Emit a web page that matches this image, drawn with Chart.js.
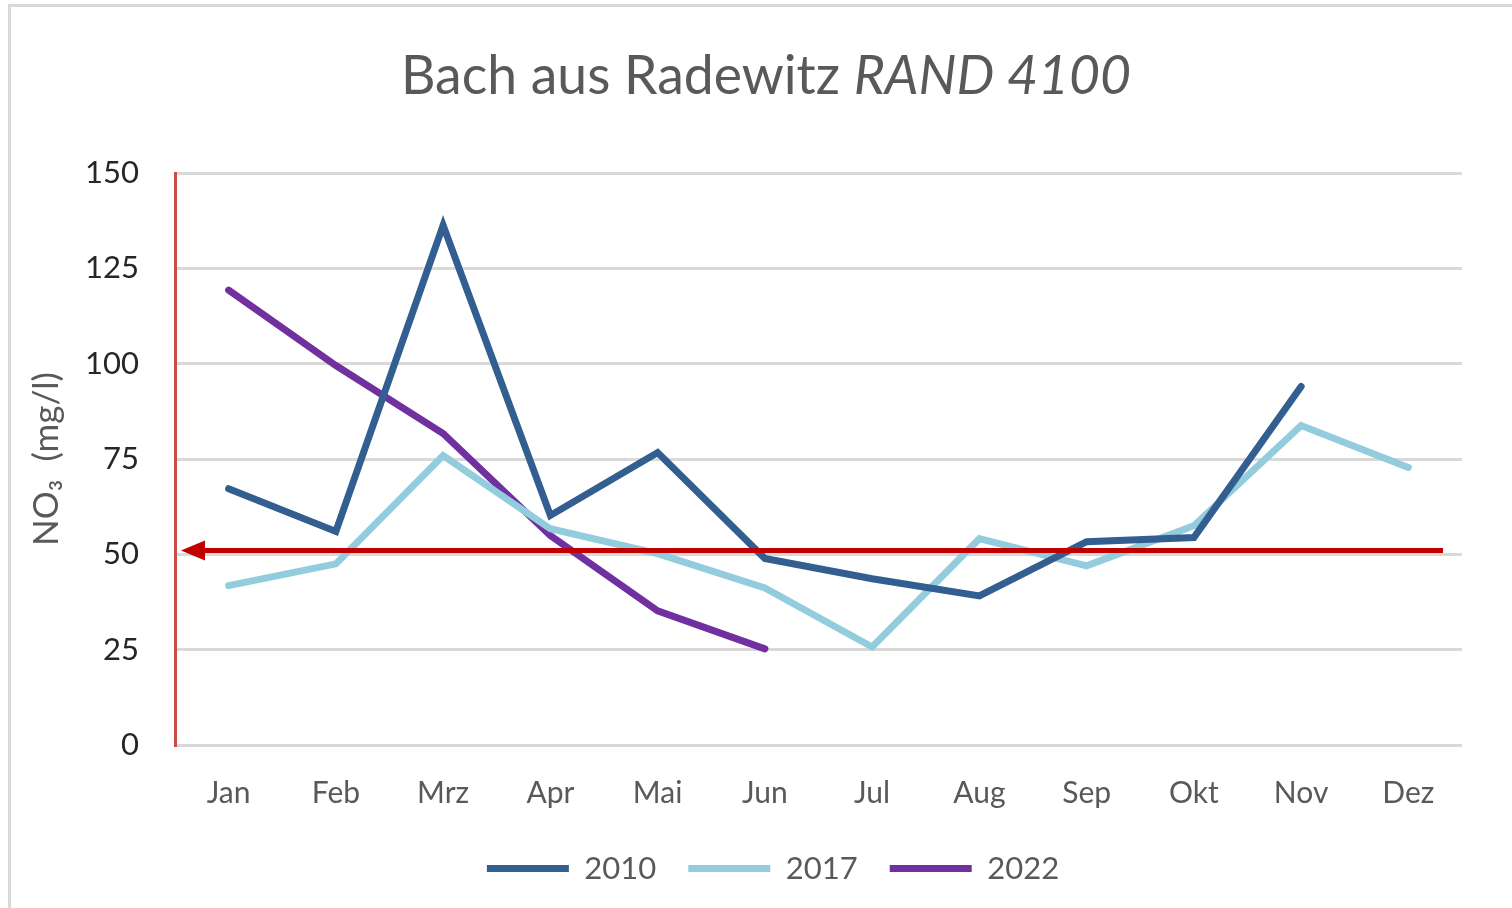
<!DOCTYPE html>
<html>
<head>
<meta charset="utf-8">
<title>Bach aus Radewitz RAND 4100</title>
<script src="https://cdn.jsdelivr.net/npm/chart.js@4"></script>
<style>
  body { margin: 0; background: #fff; overflow: hidden; font-family: Lato, "Noto Sans", sans-serif; }
  #frame { position: absolute; left: 8px; top: 4px; width: 1520px; height: 920px;
           border-left: 3px solid #d9d9d9; border-top: 3px solid #d9d9d9; }
  #wrap { position: absolute; left: 0; top: 0; width: 1512px; height: 908px; }
  h1 { position: absolute; left: 0; width: 1532px; top: 41px; margin: 0; text-align: center;
       font-weight: normal; font-size: 53.5px; color: #595959; }
</style>
</head>
<body>
<div id="frame"></div>
<div id="wrap"><canvas id="no3Chart"></canvas></div>
<h1>Bach aus Radewitz <i>RAND 4100</i></h1>
<script>
// monthly NO3 readings, mg/l
const months = ['Jan', 'Feb', 'Mrz', 'Apr', 'Mai', 'Jun', 'Jul', 'Aug', 'Sep', 'Okt', 'Nov', 'Dez'];
const values2010 = [67.2, 56, 136.3, 60.2, 76.7, 48.9, 43.6, 39.1, 53.3, 54.4, 94, null];
const values2017 = [41.8, 47.5, 75.9, 56.7, 50.2, 41.2, 25.7, 54.1, 47, 57.5, 83.8, 72.8];
const values2022 = [119.3, 99.5, 81.7, 54.9, 35.2, 25.2, null, null, null, null, null, null];
const yTicks = [0, 25, 50, 75, 100, 125, 150];
const limitValue = 51;

// red limit line with arrow head on the left
const limitLine = {
    id: 'limitLine',
    afterDatasetsDraw(chart) {
        const { ctx, chartArea, scales } = chart;
        const y = scales.y.getPixelForValue(limitValue);
        const tip = chartArea.left + 6;
        ctx.save();
        ctx.strokeStyle = '#c00000';
        ctx.fillStyle = '#c00000';
        ctx.lineWidth = 5;
        ctx.beginPath();
        ctx.moveTo(tip + 20, y);
        ctx.lineTo(chartArea.right - 19, y);
        ctx.stroke();
        ctx.beginPath();
        ctx.moveTo(tip, y);
        ctx.lineTo(tip + 24, y - 10);
        ctx.lineTo(tip + 24, y + 10);
        ctx.closePath();
        ctx.fill();
        ctx.restore();
    }
};

// nudge the legend a bit to the right, like the original
const legendShift = {
    id: 'legendShift',
    afterLayout(chart) {
        chart.legend.left += 32;
        chart.legend.right += 32;
    }
};

function series(label, data, color) {
    return {
        label: label,
        data: data,
        borderColor: color,
        backgroundColor: color,
        borderWidth: 7,
        borderCapStyle: 'round',
        borderJoinStyle: 'miter',
        pointRadius: 0,
        tension: 0,
        spanGaps: false
    };
}

new Chart(document.getElementById('no3Chart'), {
    type: 'line',
    data: {
        labels: months,
        datasets: [
            series('2010', values2010, '#335e90'),
            series('2017', values2017, '#93cddd'),
            series('2022', values2022, '#7030a0')
        ]
    },
    options: {
        responsive: true,
        maintainAspectRatio: false,
        animation: false,
        layout: { padding: { left: 20, right: 50, top: 173, bottom: 14 } },
        plugins: {
            legend: {
                position: 'bottom',
                labels: {
                    font: { family: 'Lato', size: 31 },
                    color: '#595959',
                    boxWidth: 82,
                    boxHeight: 7,
                    padding: 32,
                    generateLabels(chart) {
                        return Chart.defaults.plugins.legend.labels.generateLabels(chart).map(item => {
                            item.lineWidth = 0;
                            item.fillStyle = item.strokeStyle;
                            return item;
                        });
                    }
                }
            },
            tooltip: { enabled: false }
        },
        scales: {
            x: {
                offset: true,
                grid: { display: false, drawTicks: false },
                border: { display: false },
                ticks: { font: { family: 'Lato', size: 30 }, color: '#595959', padding: 30, maxRotation: 0 },
                afterFit(scale) { scale.height = 76; }
            },
            y: {
                min: 0,
                max: 150,
                afterBuildTicks(scale) { scale.ticks = yTicks.map(v => ({ value: v })); },
                grid: { color: '#d9d9d9', lineWidth: 3, drawTicks: false },
                border: { color: '#cc4c4c', width: 3 },
                ticks: { font: { family: 'Lato', size: 31 }, color: '#262626', padding: 36 },
                title: {
                    display: true,
                    text: 'NO₃  (mg/l)',
                    font: { family: 'Lato', size: 35 },
                    color: '#595959',
                    padding: { top: 6, bottom: 0 }
                },
                afterFit(scale) { scale.width = 155; }
            }
        }
    },
    plugins: [limitLine, legendShift]
});
</script>
</body>
</html>
